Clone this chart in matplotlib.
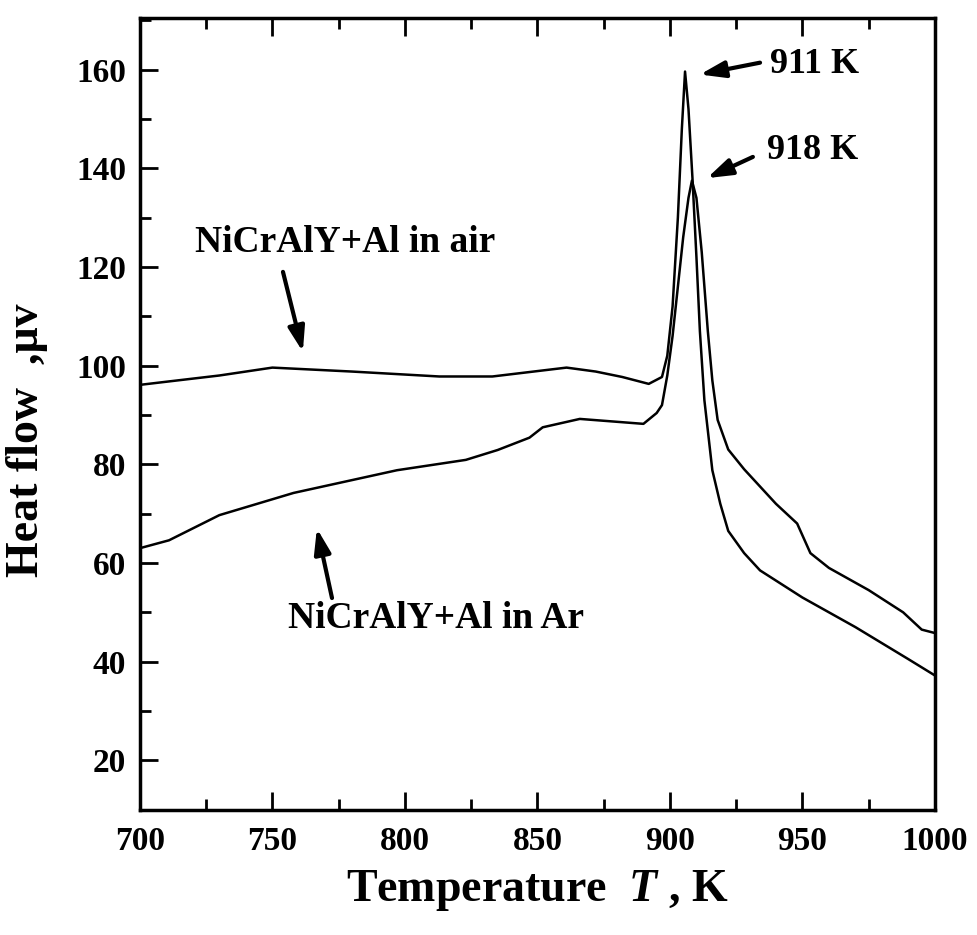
import matplotlib
matplotlib.use("Agg")
import matplotlib.pyplot as plt
from matplotlib.ticker import MultipleLocator

# Data
T_air = [700, 711, 730, 750, 780, 813, 833, 847, 861, 872, 882, 892, 897, 899, 901,
         903, 904.5, 905.7, 907, 908.5, 910, 911.3, 913, 916, 919, 922, 928, 934,
         950, 970, 990, 1000]
H_air = [96.1, 96.8, 98.0, 99.6, 98.8, 97.8, 97.8, 98.7, 99.6, 98.8, 97.7, 96.3, 97.7,
         102, 112, 130, 148, 159.6, 152, 138, 122, 107, 93, 78.8, 72, 66.5, 62, 58.5,
         53, 47, 40.5, 37.2]
T_ar = [700, 711, 730, 758, 797, 823, 835, 847, 852, 866, 890, 895, 897, 899, 901,
        903, 905, 907, 908.3, 910, 912, 914.3, 916, 918, 922, 928, 940, 948, 953,
        960, 975, 988, 995, 1000]
H_ar = [63.0, 64.6, 69.7, 74.2, 78.8, 80.9, 82.9, 85.4, 87.5, 89.2, 88.2, 90.4, 92,
        98, 106, 116, 126, 134, 137.5, 134, 123, 107, 97, 89, 83, 79, 72, 68, 62,
        59, 54.5, 50, 46.5, 45.8]

xticks = [700, 750, 800, 850, 900, 950, 1000]
yticks = [20, 40, 60, 80, 100, 120, 140, 160]

plt.rcParams['font.family'] = ['Liberation Serif', 'DejaVu Serif']
plt.rcParams['font.weight'] = 'bold'
plt.rcParams['mathtext.fontset'] = 'custom'
plt.rcParams['mathtext.rm'] = 'Liberation Serif:bold'
plt.rcParams['mathtext.it'] = 'Liberation Serif:bold:italic'
plt.rcParams['mathtext.bf'] = 'Liberation Serif:bold'

fig = plt.figure(figsize=(9.78, 9.35), dpi=100)
ax = fig.add_axes([0.143, 0.134, 0.813, 0.847])

ax.plot(T_air, H_air, color='black', lw=1.8)
ax.plot(T_ar, H_ar, color='black', lw=1.8)

ax.set_xlim(700, 1000)
ax.set_ylim(10, 170.5)
ax.set_xticks(xticks)
ax.set_yticks(yticks)
ax.xaxis.set_minor_locator(MultipleLocator(25))
ax.yaxis.set_minor_locator(MultipleLocator(10))
ax.tick_params(which='both', direction='in', top=True, right=False, width=2,
               labelsize=24)
ax.tick_params(axis='x', pad=12)
ax.tick_params(axis='y', pad=10)
ax.tick_params(which='major', length=13)
ax.tick_params(which='minor', length=8)
for lab in ax.get_xticklabels() + ax.get_yticklabels():
    lab.set_fontweight('bold')
for s in ax.spines.values():
    s.set_linewidth(2.5)

ax.set_xlabel('Temperature  $\\mathit{T}$ , K', fontsize=33, fontweight='bold', labelpad=8)
ax.set_ylabel('Heat flow  ,μv', fontsize=33, fontweight='bold')
ax.yaxis.set_label_coords(-0.115, 0.467)

arrow = dict(arrowstyle='-|>,head_length=1.5,head_width=0.5', color='black', lw=3,
             shrinkA=0, shrinkB=0)
ax.annotate('', xy=(761.5, 102.8), xytext=(754, 119), arrowprops=arrow)
ax.annotate('', xy=(766.8, 67), xytext=(772.5, 52.9), arrowprops=arrow)
ax.annotate('', xy=(911.3, 159), xytext=(934, 161.4), arrowprops=arrow)
ax.annotate('', xy=(914, 138), xytext=(931.3, 142.3), arrowprops=arrow)

ax.text(777.4, 124.9, 'NiCrAlY+Al in air', fontsize=27, fontweight='bold',
        ha='center', va='center')
ax.text(811.7, 48.8, 'NiCrAlY+Al in Ar', fontsize=27, fontweight='bold',
        ha='center', va='center')
ax.text(937.7, 161, '911 K', fontsize=26, fontweight='bold', ha='left', va='center')
ax.text(936.6, 143.7, '918 K', fontsize=26, fontweight='bold', ha='left', va='center')

fig.savefig('out.png', dpi=100)
